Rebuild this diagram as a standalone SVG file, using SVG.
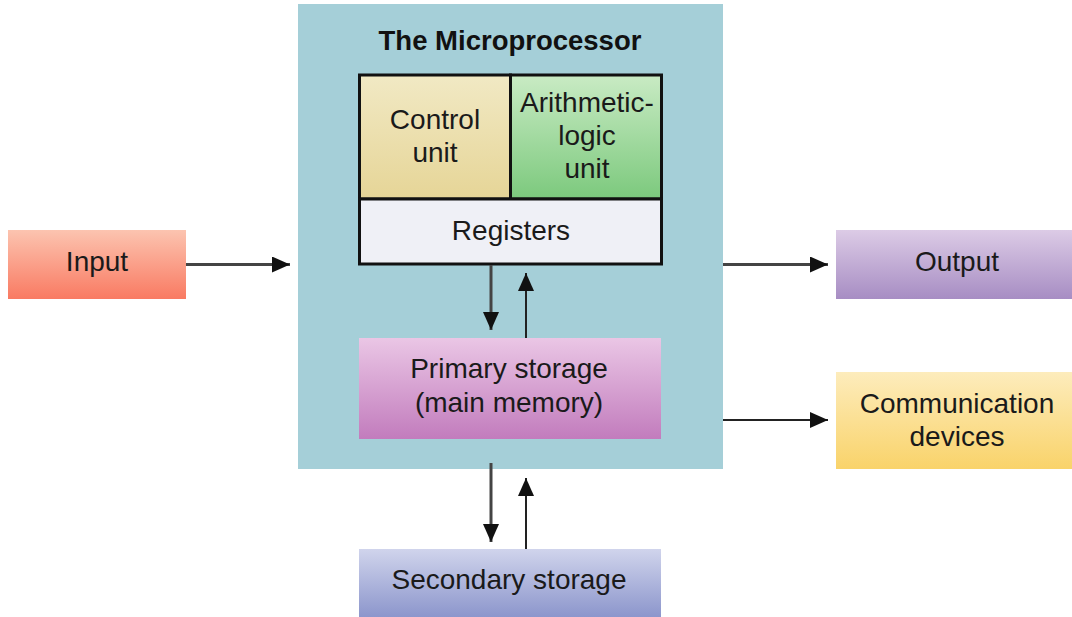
<svg xmlns="http://www.w3.org/2000/svg" width="1072" height="617" viewBox="0 0 1072 617">
  <defs>
    <linearGradient id="gInput" x1="0" y1="0" x2="0" y2="1">
      <stop offset="0" stop-color="#fcc4b0"/>
      <stop offset="1" stop-color="#f97a62"/>
    </linearGradient>
    <linearGradient id="gOutput" x1="0" y1="0" x2="0" y2="1">
      <stop offset="0" stop-color="#dccbe6"/>
      <stop offset="1" stop-color="#a78dc3"/>
    </linearGradient>
    <linearGradient id="gComm" x1="0" y1="0" x2="0" y2="1">
      <stop offset="0" stop-color="#fdecbc"/>
      <stop offset="1" stop-color="#f9d36a"/>
    </linearGradient>
    <linearGradient id="gControl" x1="0" y1="0" x2="0" y2="1">
      <stop offset="0" stop-color="#f1e9c4"/>
      <stop offset="1" stop-color="#e6d597"/>
    </linearGradient>
    <linearGradient id="gAlu" x1="0" y1="0" x2="0" y2="1">
      <stop offset="0" stop-color="#c9ebc4"/>
      <stop offset="1" stop-color="#7cc97d"/>
    </linearGradient>
    <linearGradient id="gPrimary" x1="0" y1="0" x2="0" y2="1">
      <stop offset="0" stop-color="#eac6e5"/>
      <stop offset="1" stop-color="#c27cbd"/>
    </linearGradient>
    <linearGradient id="gSecondary" x1="0" y1="0" x2="0" y2="1">
      <stop offset="0" stop-color="#d0d4ec"/>
      <stop offset="1" stop-color="#8a94cb"/>
    </linearGradient>
    <marker id="arrow" viewBox="0 0 18 16" refX="18" refY="8" markerWidth="18" markerHeight="16" markerUnits="userSpaceOnUse" orient="auto">
      <path d="M0,0 L18,8 L0,16 Z" fill="#111"/>
    </marker>
  </defs>
  <style>
    .lbl { font-family: "Liberation Sans", Arial, Helvetica, sans-serif; font-size: 28px; fill: #1a1a1a; text-anchor: middle; }
    .title { font-family: "Liberation Sans", Arial, Helvetica, sans-serif; font-size: 27.5px; font-weight: bold; fill: #111; text-anchor: middle; }
    .conn { stroke: #222; stroke-width: 2; fill: none; marker-end: url(#arrow); }
    .connThick { stroke: #444; stroke-width: 3; fill: none; marker-end: url(#arrow); }
    .cell { stroke: #111; stroke-width: 3; }
  </style>

  <rect width="1072" height="617" fill="#ffffff"/>

  <g id="microprocessor">
    <rect x="298" y="4" width="425" height="465" fill="#a5cfd8"/>
    <text class="title" x="510" y="50">The Microprocessor</text>
  </g>

  <g id="control-unit">
    <rect class="cell" x="359.5" y="75" width="151" height="124" fill="url(#gControl)"/>
    <text class="lbl" x="435" y="129">Control</text>
    <text class="lbl" x="435" y="162">unit</text>
  </g>

  <g id="alu">
    <rect class="cell" x="510.5" y="75" width="151" height="124" fill="url(#gAlu)"/>
    <text class="lbl" x="587" y="112">Arithmetic-</text>
    <text class="lbl" x="587" y="145">logic</text>
    <text class="lbl" x="587" y="178">unit</text>
  </g>

  <g id="registers">
    <rect class="cell" x="359.5" y="199" width="302" height="65" fill="#eff0f6"/>
    <text class="lbl" x="511" y="240">Registers</text>
  </g>

  <g id="primary-storage">
    <rect x="359" y="338" width="302" height="101" fill="url(#gPrimary)"/>
    <text class="lbl" x="509" y="378">Primary storage</text>
    <text class="lbl" x="509" y="412">(main memory)</text>
  </g>

  <g id="secondary-storage">
    <rect x="359" y="549" width="302" height="70" fill="url(#gSecondary)"/>
    <text class="lbl" x="509" y="589">Secondary storage</text>
  </g>

  <g id="input">
    <rect x="8" y="230" width="178" height="69" fill="url(#gInput)"/>
    <text class="lbl" x="97" y="271">Input</text>
  </g>

  <g id="output">
    <rect x="836" y="230" width="240" height="69" fill="url(#gOutput)"/>
    <text class="lbl" x="957" y="271">Output</text>
  </g>

  <g id="communication-devices">
    <rect x="836" y="372" width="240" height="97" fill="url(#gComm)"/>
    <text class="lbl" x="957" y="413">Communication</text>
    <text class="lbl" x="957" y="446">devices</text>
  </g>

  <g id="connectors">
    <line class="connThick" x1="186" y1="264.5" x2="290" y2="264.5"/>
    <line class="connThick" x1="723" y1="264.5" x2="828" y2="264.5"/>
    <line class="conn" x1="723" y1="420" x2="828" y2="420"/>
    <line class="connThick" x1="491" y1="265" x2="491" y2="330"/>
    <line class="conn" x1="526" y1="338" x2="526" y2="273"/>
    <line class="connThick" x1="491" y1="463" x2="491" y2="542"/>
    <line class="conn" x1="526" y1="549" x2="526" y2="478"/>
  </g>
</svg>
